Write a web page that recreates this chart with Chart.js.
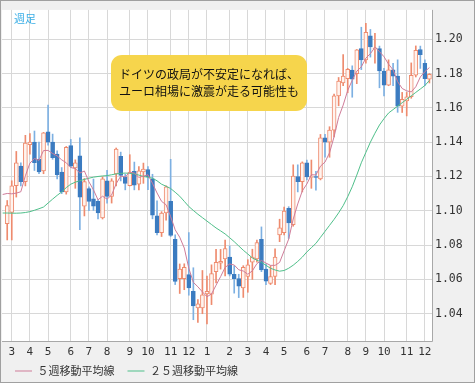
<!DOCTYPE html>
<html><head><meta charset="utf-8">
<script src="https://cdn.jsdelivr.net/npm/chart.js@4.4.1/dist/chart.umd.min.js"></script>
<style>html,body{margin:0;padding:0;background:#fff}canvas{display:block}</style>
</head><body>
<canvas id="c" width="475" height="383"></canvas>
<script>
// Weekly categories (week starting Monday)
const weeks = ['2016/02/22','2016/02/29','2016/03/07','2016/03/14','2016/03/21','2016/03/28','2016/04/04','2016/04/11','2016/04/18','2016/04/25',
'2016/05/02','2016/05/09','2016/05/16','2016/05/23','2016/05/30','2016/06/06','2016/06/13','2016/06/20','2016/06/27','2016/07/04',
'2016/07/11','2016/07/18','2016/07/25','2016/08/01','2016/08/08','2016/08/15','2016/08/22','2016/08/29','2016/09/05','2016/09/12',
'2016/09/19','2016/09/26','2016/10/03','2016/10/10','2016/10/17','2016/10/24','2016/10/31','2016/11/07','2016/11/14','2016/11/21',
'2016/11/28','2016/12/05','2016/12/12','2016/12/19','2016/12/26','2017/01/02','2017/01/09','2017/01/16','2017/01/23','2017/01/30',
'2017/02/06','2017/02/13','2017/02/20','2017/02/27','2017/03/06','2017/03/13','2017/03/20','2017/03/27','2017/04/03','2017/04/10',
'2017/04/17','2017/04/24','2017/05/01','2017/05/08','2017/05/15','2017/05/22','2017/05/29','2017/06/05','2017/06/12','2017/06/19',
'2017/06/26','2017/07/03','2017/07/10','2017/07/17','2017/07/24','2017/07/31','2017/08/07','2017/08/14','2017/08/21','2017/08/28',
'2017/09/04','2017/09/11','2017/09/18','2017/09/25','2017/10/02','2017/10/09','2017/10/16','2017/10/23','2017/10/30','2017/11/06',
'2017/11/13','2017/11/20','2017/11/27','2017/12/04','2017/12/11'];

const openP = [null,
1.0925,1.0990,1.1146,1.1260,1.1170,1.1386,1.1400,1.1300,1.1232,1.1460,
1.1400,1.1330,1.1226,1.1110,1.1380,1.1250,1.1320,1.1027,1.1130,1.1070,
1.1055,1.0958,1.1175,1.1084,1.1215,1.1318,1.1198,1.1147,1.1230,1.1155,
1.1227,1.1240,1.1186,1.0970,1.0873,1.0987,1.1055,1.0833,1.0605,1.0605,
1.0628,1.0530,1.0434,1.0434,1.0515,1.0514,1.0645,1.0695,1.0720,1.0730,
1.0630,1.0605,1.0550,1.0617,1.0700,1.0720,1.0833,1.0660,1.0577,1.0617,
1.0860,1.0873,1.1015,1.0919,1.1200,1.1170,1.1280,1.1195,1.1200,1.1186,
1.1425,1.1400,1.1470,1.1670,1.1745,1.1770,1.1820,1.1800,1.1945,1.1880,
1.2020,1.1945,1.1945,1.1815,1.1732,1.1822,1.1785,1.1610,1.1640,1.1665,
1.1790,1.1940,1.1860,1.1767];

const highP = [null,
1.1060,1.1175,1.1346,1.1280,1.1440,1.1450,1.1465,1.1400,1.1457,1.1616,
1.1447,1.1350,1.1252,1.1375,1.1416,1.1297,1.1425,1.1188,1.1140,1.1185,
1.1065,1.1198,1.1236,1.1187,1.1366,1.1342,1.1214,1.1327,1.1284,1.1258,
1.1278,1.1258,1.1213,1.1058,1.0995,1.1145,1.1300,1.0860,1.0690,1.0691,
1.0873,1.0668,1.0482,1.0652,1.0620,1.0685,1.0775,1.0775,1.0829,1.0795,
1.0679,1.0630,1.0680,1.0715,1.0776,1.0829,1.0906,1.0690,1.0680,1.0778,
1.0951,1.1022,1.1024,1.1268,1.1268,1.1285,1.1296,1.1296,1.1230,1.1445,
1.1445,1.1490,1.1680,1.1777,1.1910,1.1830,1.1845,1.1940,1.2070,1.2092,
1.2057,1.2035,1.1960,1.1830,1.1880,1.1860,1.1880,1.1690,1.1690,1.1862,
1.1961,1.1960,1.1880,1.1800];

const lowP = [null,
1.0830,1.0830,1.1080,1.1145,1.1145,1.1330,1.1235,1.1217,1.1216,1.1383,
1.1300,1.1186,1.1100,1.1097,1.1253,1.1131,1.0890,1.0970,1.1000,1.1002,
1.0952,1.0952,1.1045,1.1045,1.1145,1.1174,1.1122,1.1145,1.1122,1.1122,
1.1160,1.1123,1.0953,1.0859,1.0850,1.0945,1.0850,1.0570,1.0518,1.0540,
1.0508,1.0365,1.0350,1.0400,1.0340,1.0453,1.0580,1.0660,1.0620,1.0620,
1.0520,1.0494,1.0495,1.0525,1.0600,1.0700,1.0645,1.0570,1.0570,1.0570,
1.0820,1.0860,1.0839,1.0910,1.1110,1.1110,1.1180,1.1131,1.1120,1.1180,
1.1312,1.1312,1.1430,1.1612,1.1730,1.1688,1.1662,1.1741,1.1823,1.1860,
1.1896,1.1860,1.1717,1.1669,1.1729,1.1730,1.1574,1.1573,1.1553,1.1656,
1.1780,1.1830,1.1730,1.1745];

const closeP = [null,
1.1030,1.1145,1.1280,1.1170,1.1395,1.1400,1.1280,1.1226,1.1454,1.1400,
1.1310,1.1210,1.1110,1.1370,1.1260,1.1280,1.1080,1.1170,1.1055,1.1027,
1.0987,1.1186,1.1084,1.1175,1.1360,1.1206,1.1160,1.1226,1.1150,1.1233,
1.1243,1.1198,1.0975,1.0873,1.0987,1.1140,1.0856,1.0588,1.0660,1.0670,
1.0550,1.0446,1.0457,1.0510,1.0530,1.0634,1.0700,1.0705,1.0780,1.0630,
1.0605,1.0560,1.0670,1.0685,1.0730,1.0815,1.0656,1.0590,1.0617,1.0730,
1.0900,1.0998,1.0930,1.1203,1.1170,1.1280,1.1198,1.1200,1.1195,1.1425,
1.1400,1.1470,1.1670,1.1756,1.1785,1.1825,1.1767,1.1938,1.1880,1.2040,
1.1955,1.1950,1.1815,1.1732,1.1822,1.1785,1.1610,1.1650,1.1665,1.1790,
1.1935,1.1910,1.1770,1.1795];

// Moving averages
const ma5 = [1.1095,1.1101,1.1099,1.1103,1.1111,1.1204,1.1278,1.1305,1.1294,1.1351,
1.1352,1.1334,1.1320,1.1297,1.1280,1.1252,1.1246,1.1220,1.1232,1.1169,
1.1122,1.1064,1.1085,1.1068,1.1092,1.1158,1.1202,1.1197,1.1225,1.1220,
1.1195,1.1202,1.1210,1.1160,1.1104,1.1055,1.1035,1.0966,1.0889,1.0846,
1.0783,1.0665,1.0583,1.0557,1.0527,1.0499,1.0515,1.0566,1.0616,1.0670,
1.0690,1.0684,1.0656,1.0649,1.0630,1.0650,1.0692,1.0711,1.0695,1.0682,
1.0682,1.0699,1.0767,1.0835,1.0952,1.1040,1.1116,1.1156,1.1210,1.1209,
1.1260,1.1284,1.1338,1.1432,1.1544,1.1616,1.1701,1.1761,1.1814,1.1839,
1.1890,1.1916,1.1953,1.1928,1.1898,1.1855,1.1821,1.1753,1.1713,1.1699,
1.1693,1.1723,1.1780,1.1811,1.1835];

const ma25 = [1.0987,1.0987,1.0986,1.0986,1.0987,1.0990,1.0995,1.1003,1.1012,1.1022,
1.1045,1.1068,1.1090,1.1110,1.1135,1.1155,1.1167,1.1175,1.1183,1.1190,
1.1196,1.1200,1.1203,1.1205,1.1210,1.1215,1.1218,1.1220,1.1218,1.1215,
1.1208,1.1200,1.1196,1.1190,1.1175,1.1155,1.1143,1.1130,1.1108,1.1085,
1.1055,1.1025,1.1002,1.0980,1.0960,1.0940,1.0920,1.0900,1.0883,1.0865,
1.0843,1.0820,1.0795,1.0770,1.0748,1.0725,1.0712,1.0700,1.0682,1.0665,
1.0655,1.0648,1.0652,1.0665,1.0683,1.0705,1.0730,1.0760,1.0785,1.0810,
1.0845,1.0880,1.0915,1.0950,1.0988,1.1030,1.1082,1.1140,1.1208,1.1280,
1.1340,1.1400,1.1452,1.1500,1.1537,1.1570,1.1590,1.1610,1.1630,1.1650,
1.1670,1.1690,1.1710,1.1730,1.1760];

const yTickValues = [1.04, 1.06, 1.08, 1.10, 1.12, 1.14, 1.16, 1.18, 1.20];
const seriesNames = ['５週移動平均線', '２５週移動平均線'];
const chartTag = '週足';
const noteLines = ['ドイツの政局が不安定になれば、', 'ユーロ相場に激震が走る可能性も'];

// x tick positions: first week of each month
const monthTickIdx = weeks.map((w, i) => i).filter(i => parseInt(weeks[i].slice(8, 10), 10) <= 7);
const monthOf = i => String(parseInt(weeks[i].slice(5, 7), 10));

const UP_LINE = '#ee8b6e', UP_FILL = '#fff4ef', DN_FILL = '#3b7bc0', DN_WICK = '#7db0e2';
const idx = weeks.map((w, i) => i).filter(i => openP[i] !== null);
const up = i => closeP[i] >= openP[i];

const wickData = idx.map(i => ({x: i, y: [lowP[i], highP[i]]}));
const bodyData = idx.map(i => ({x: i, y: [openP[i], closeP[i]]}));

const bgPlugin = {
  id: 'bg',
  beforeDraw(chart) {
    const {ctx, chartArea: a} = chart;
    ctx.save();
    ctx.fillStyle = '#f0f0f0';
    ctx.fillRect(0, 0, chart.width, chart.height);
    ctx.fillStyle = '#ffffff';
    ctx.fillRect(a.left, a.top, a.right - a.left, a.bottom - a.top);
    ctx.restore();
  },
  afterLayout(chart) {
    const lg = chart.legend;
    if (lg) {
      const h = lg.bottom - lg.top;
      lg.top = chart.chartArea.bottom + 11.5;
      lg.bottom = lg.top + h;
    }
  },
  afterDraw(chart) {
    const {ctx, chartArea: a} = chart;
    ctx.save();
    // plot frame (right, bottom)
    ctx.strokeStyle = '#a8a8a8';
    ctx.lineWidth = 1;
    ctx.beginPath();
    ctx.moveTo(a.right + 0.5, a.top);
    ctx.lineTo(a.right + 0.5, a.bottom + 0.5);
    ctx.lineTo(a.left, a.bottom + 0.5);
    ctx.stroke();
    // outer frame
    ctx.strokeStyle = '#a0a0a0';
    ctx.strokeRect(0.5, 0.5, chart.width - 1, chart.height - 1);
    // tag
    ctx.fillStyle = '#3aaee6';
    ctx.font = '11px "Noto Sans CJK JP"';
    ctx.textBaseline = 'middle';
    ctx.textAlign = 'left';
    ctx.fillText(chartTag, a.left + 12, a.top + 9);
    // note box
    const bx = a.left + 109, by = a.top + 45, bw = 196, bh = 56, r = 11;
    ctx.fillStyle = '#f6d54c';
    ctx.beginPath();
    ctx.roundRect(bx, by, bw, bh, r);
    ctx.fill();
    ctx.fillStyle = '#111';
    ctx.font = '12px "Noto Sans CJK JP"';
    ctx.textAlign = 'center';
    ctx.fillText(noteLines[0], bx + bw / 2, by + 19.5);
    ctx.fillText(noteLines[1], bx + bw / 2, by + 37);
    ctx.restore();
  }
};

new Chart(document.getElementById('c'), {
  type: 'bar',
  data: {
    datasets: [
      {type: 'line', label: seriesNames[0], data: ma5.map((v, i) => ({x: i, y: v})),
       borderColor: '#cf7c99', backgroundColor: '#cf7c99', borderWidth: 1, pointRadius: 0, tension: 0, order: 0},
      {type: 'line', label: seriesNames[1], data: ma25.map((v, i) => ({x: i, y: v})),
       borderColor: '#4fbf8a', backgroundColor: '#4fbf8a', borderWidth: 1, pointRadius: 0, tension: 0, order: 1},
      {type: 'bar', label: 'body', data: bodyData, grouped: false, order: 2,
       barThickness: 4, borderWidth: 1, borderSkipped: false,
       backgroundColor: idx.map(i => up(i) ? UP_FILL : DN_FILL),
       borderColor: idx.map(i => up(i) ? UP_LINE : DN_FILL)},
      {type: 'bar', label: 'wick', data: wickData, grouped: false, order: 3,
       barThickness: 1, borderWidth: 0,
       backgroundColor: idx.map(i => up(i) ? UP_LINE : DN_WICK)}
    ]
  },
  options: {
    responsive: false, animation: false, devicePixelRatio: 1,
    layout: {padding: {left: 2, top: 2, right: 2, bottom: -12}},
    plugins: {
      legend: {
        display: true, position: 'bottom', align: 'start',
        labels: {
          filter: it => it.datasetIndex < 2,
          usePointStyle: true, pointStyle: 'line', pointStyleWidth: 17,
          padding: 13, color: '#333',
          font: {family: '"Noto Sans CJK JP"', size: 11}
        }
      },
      tooltip: {enabled: false}
    },
    scales: {
      x: {
        type: 'linear', min: -0.15, max: 94.57, offset: false,
        afterBuildTicks: s => { s.ticks = monthTickIdx.map(v => ({value: v})); },
        afterFit: s => { s.height = 20; },
        grid: {color: '#d8d8d8', drawTicks: false, offset: false},
        border: {display: false},
        ticks: {autoSkip: false, maxRotation: 0, minRotation: 0, padding: 5, color: '#333',
                font: {family: '"DejaVu Sans Mono"', size: 11},
                callback: v => monthOf(v)}
      },
      y: {
        position: 'right', min: 1.0241, max: 1.2171,
        afterBuildTicks: s => { s.ticks = yTickValues.map(v => ({value: v})); },
        afterFit: s => { s.width = 41; },
        grid: {color: '#d8d8d8', drawTicks: false},
        border: {display: false},
        ticks: {padding: 3, color: '#333', font: {family: '"DejaVu Sans Mono"', size: 11.5},
                callback: v => v.toFixed(2)}
      }
    }
  },
  plugins: [bgPlugin]
});
</script>
</body></html>
